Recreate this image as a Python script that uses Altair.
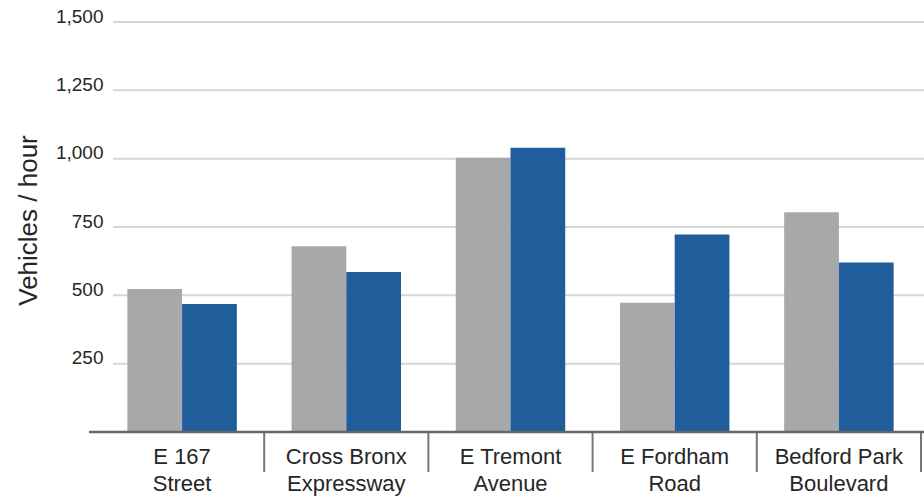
import altair as alt
import pandas as pd

categories = ["E 167 Street", "Cross Bronx Expressway", "E Tremont Avenue",
              "E Fordham Road", "Bedford Park Boulevard"]
series = ["Existing", "Proposed"]
existing = [523, 680, 1003, 473, 804]
proposed = [468, 585, 1040, 723, 620]
y_ticks = [250, 500, 750, 1000, 1250, 1500]

rows = []
for c, a, b in zip(categories, existing, proposed):
    rows.append({"category": c, "series": series[0], "value": a})
    rows.append({"category": c, "series": series[1], "value": b})
df = pd.DataFrame(rows)

FONT = "Liberation Sans"
TEXT = "#262626"
W, H = 821, 410

x_scale = alt.Scale(domain=categories, paddingInner=0, paddingOuter=0)
y_scale = alt.Scale(domain=[0, 1500], nice=False)

x_axis = alt.Axis(
    title=None, domain=False, ticks=False, grid=False, labelAngle=0,
    labelFont=FONT, labelFontSize=22, labelColor=TEXT,
    labelPadding=14, labelLineHeight=27, labelBaseline="top",
    labelExpr="[slice(datum.label, 0, lastindexof(datum.label, ' ')), slice(datum.label, lastindexof(datum.label, ' ') + 1)]",
)
y_axis = alt.Axis(
    values=y_ticks, format=",.0f", grid=False, domain=False, ticks=False,
    labelPadding=-3, labelFont=FONT, labelFontSize=19, labelColor=TEXT,
    labelBaseline="alphabetic",
    title="Vehicles / hour", titleFont=FONT, titleFontSize=26,
    titleFontWeight="normal", titleColor=TEXT, titleAngle=270,
    titleX=-72, titleY=198, titleAlign="center", titleBaseline="middle",
)

grid = alt.Chart(pd.DataFrame({"v": y_ticks})).mark_rule(
    color="#D6D6D6", strokeWidth=2
).encode(
    y=alt.Y("v:Q", scale=y_scale, axis=y_axis),
    x=alt.value(13), x2=alt.value(W + 3),
)

bars = alt.Chart(df).mark_bar().encode(
    x=alt.X("category:N", scale=x_scale, sort=categories, axis=x_axis),
    xOffset=alt.XOffset("series:N", sort=series,
                        scale=alt.Scale(paddingInner=0, paddingOuter=0.5)),
    y=alt.Y("value:Q", scale=y_scale, axis=y_axis),
    color=alt.Color("series:N", scale=alt.Scale(domain=series, range=["#A7A8AA", "#1F5D9B"]),
                    legend=None),
)

seps = alt.Chart(pd.DataFrame({"category": categories[1:]})).mark_rule(
    color="#777777", strokeWidth=2
).encode(
    x=alt.X("category:N", scale=x_scale, sort=categories, axis=x_axis, bandPosition=0),
    y=alt.value(H), y2=alt.value(H + 40),
)

end_sep = alt.Chart(pd.DataFrame({"k": [0]})).mark_rule(
    color="#777777", strokeWidth=2
).encode(x=alt.value(W), y=alt.value(H), y2=alt.value(H + 40))

baseline = alt.Chart(pd.DataFrame({"k": [0]})).mark_rule(
    color="#666666", strokeWidth=2.5
).encode(x=alt.value(-11), x2=alt.value(W + 3), y=alt.value(H))

chart = alt.layer(grid, bars, seps, end_sep, baseline).properties(
    width=W, height=H,
    autosize=alt.AutoSizeParams(type="none"),
    padding={"left": 100, "top": 22, "right": 3, "bottom": 65},
    background="white",
).configure_view(stroke=None)

chart.save("out.html", embed_options={"renderer": "svg", "actions": False})
